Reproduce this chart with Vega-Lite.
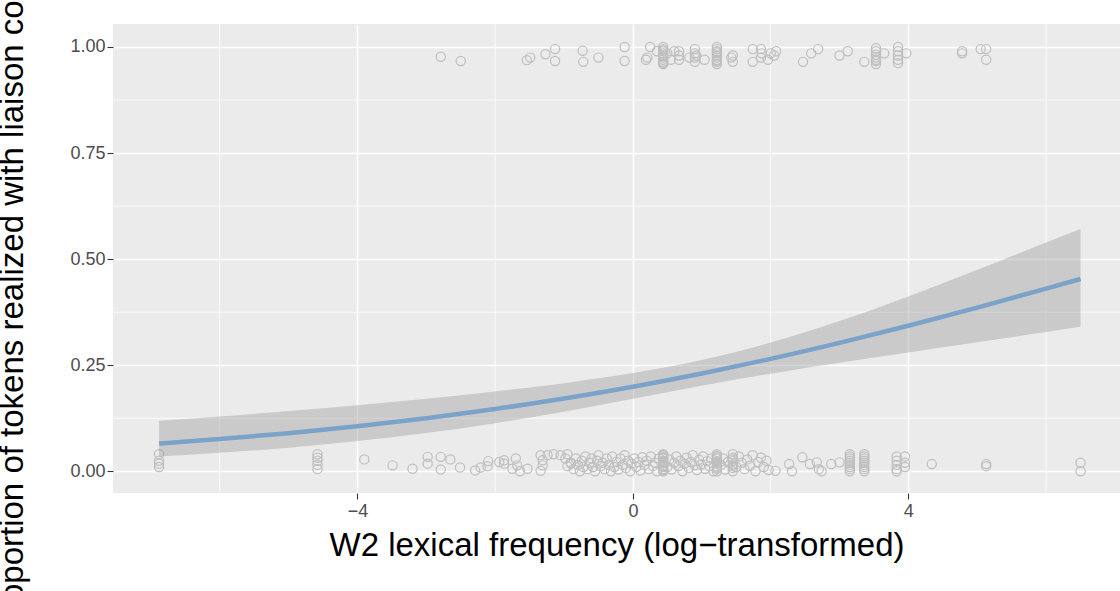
{
  "$schema": "https://vega.github.io/schema/vega-lite/v6.json",
  "autosize": {"type": "none"},
  "width": 1007,
  "height": 469,
  "padding": {"left": 113, "top": 24, "right": 0, "bottom": 98},
  "background": "white",
  "config": {
    "view": {"stroke": null, "fill": "#EBEBEB"},
    "axis": {
      "domain": false,
      "tickColor": "#333333",
      "tickSize": 6,
      "tickWidth": 1.1,
      "labelColor": "#4D4D4D",
      "labelFont": "Liberation Sans",
      "labelFontSize": 18,
      "titleFont": "Liberation Sans",
      "titleFontSize": 33,
      "titleFontWeight": "normal",
      "titleColor": "#000000",
      "gridColor": "#FFFFFF",
      "gridWidth": 1.6,
      "gridOpacity": 1
    },
    "axisX": {"labelPadding": 3, "titlePadding": 9},
    "axisY": {"labelPadding": 2, "titleX": -91, "titleBaseline": "alphabetic"}
  },
  "datasets": {
    "gx": [{"freq": -6}, {"freq": -2}, {"freq": 2}, {"freq": 6}],
    "gy": [{"liaison": 0.125}, {"liaison": 0.375}, {"liaison": 0.625}, {"liaison": 0.875}],
    "fit": [
      {"freq": -6.88, "fit": 0.0652, "lo": 0.0348, "hi": 0.1189},
      {"freq": -6, "fit": 0.0759, "lo": 0.0434, "hi": 0.1292},
      {"freq": -5, "fit": 0.0899, "lo": 0.0557, "hi": 0.1419},
      {"freq": -4, "fit": 0.1063, "lo": 0.0711, "hi": 0.1558},
      {"freq": -3, "fit": 0.1251, "lo": 0.0901, "hi": 0.1711},
      {"freq": -2, "fit": 0.1468, "lo": 0.1133, "hi": 0.1882},
      {"freq": -1, "fit": 0.1715, "lo": 0.1405, "hi": 0.2077},
      {"freq": 0, "fit": 0.1994, "lo": 0.1708, "hi": 0.2315},
      {"freq": 1, "fit": 0.2306, "lo": 0.2017, "hi": 0.2623},
      {"freq": 2, "fit": 0.265, "lo": 0.2299, "hi": 0.3033},
      {"freq": 3, "fit": 0.3026, "lo": 0.2556, "hi": 0.3541},
      {"freq": 4, "fit": 0.343, "lo": 0.2799, "hi": 0.4122},
      {"freq": 5, "fit": 0.3858, "lo": 0.3039, "hi": 0.4748},
      {"freq": 6, "fit": 0.4305, "lo": 0.3281, "hi": 0.5391},
      {"freq": 6.5, "fit": 0.4533, "lo": 0.3404, "hi": 0.5712}
    ],
    "pts": [
      {"freq": -6.88, "liaison": 0.04}, {"freq": -6.88, "liaison": 0.025}, {"freq": -6.88, "liaison": 0.018}, {"freq": -6.88, "liaison": 0.01},
      {"freq": -4.58, "liaison": 0.04}, {"freq": -4.58, "liaison": 0.032}, {"freq": -4.58, "liaison": 0.025}, {"freq": -4.58, "liaison": 0.015}, {"freq": -4.58, "liaison": 0.005},
      {"freq": -3.9, "liaison": 0.028}, {"freq": -3.49, "liaison": 0.014}, {"freq": -3.2, "liaison": 0.006},
      {"freq": -2.98, "liaison": 0.034}, {"freq": -2.98, "liaison": 0.018}, {"freq": -2.79, "liaison": 0.034}, {"freq": -2.79, "liaison": 0.004},
      {"freq": -2.65, "liaison": 0.028}, {"freq": -2.51, "liaison": 0.009}, {"freq": -2.29, "liaison": 0.002}, {"freq": -2.21, "liaison": 0.009},
      {"freq": -2.11, "liaison": 0.012}, {"freq": -2.1, "liaison": 0.024}, {"freq": -1.94, "liaison": 0.022}, {"freq": -1.87, "liaison": 0.026},
      {"freq": -1.87, "liaison": 0.018}, {"freq": -1.75, "liaison": 0.006}, {"freq": -1.7, "liaison": 0.03}, {"freq": -1.68, "liaison": 0.014},
      {"freq": -1.64, "liaison": 0.0}, {"freq": -1.53, "liaison": 0.006}, {"freq": -1.34, "liaison": 0.038}, {"freq": -1.34, "liaison": 0.001},
      {"freq": -1.31, "liaison": 0.026}, {"freq": -1.31, "liaison": 0.014}, {"freq": -1.24, "liaison": 0.038}, {"freq": -1.15, "liaison": 0.04},
      {"freq": -1.05, "liaison": 0.038}, {"freq": -0.95, "liaison": 0.04}, {"freq": -0.9, "liaison": 0.018},
      {"freq": -0.98, "liaison": 0.03}, {"freq": -0.95, "liaison": 0.012}, {"freq": -0.9, "liaison": 0.02}, {"freq": -0.86, "liaison": 0.005},
      {"freq": -0.83, "liaison": 0.03}, {"freq": -0.8, "liaison": 0.015}, {"freq": -0.77, "liaison": 0.0}, {"freq": -0.74, "liaison": 0.025},
      {"freq": -0.72, "liaison": 0.01}, {"freq": -0.69, "liaison": 0.035}, {"freq": -0.66, "liaison": 0.005}, {"freq": -0.63, "liaison": 0.02},
      {"freq": -0.6, "liaison": 0.03}, {"freq": -0.58, "liaison": 0.01}, {"freq": -0.55, "liaison": 0.0}, {"freq": -0.52, "liaison": 0.025},
      {"freq": -0.5, "liaison": 0.038}, {"freq": -0.47, "liaison": 0.012}, {"freq": -0.44, "liaison": 0.02}, {"freq": -0.41, "liaison": 0.005},
      {"freq": -0.38, "liaison": 0.03}, {"freq": -0.35, "liaison": 0.015}, {"freq": -0.32, "liaison": 0.0}, {"freq": -0.3, "liaison": 0.035},
      {"freq": -0.27, "liaison": 0.01}, {"freq": -0.24, "liaison": 0.022}, {"freq": -0.21, "liaison": 0.004}, {"freq": -0.18, "liaison": 0.03},
      {"freq": -0.15, "liaison": 0.015}, {"freq": -0.12, "liaison": 0.038}, {"freq": -0.1, "liaison": 0.008}, {"freq": -0.07, "liaison": 0.025},
      {"freq": -0.04, "liaison": 0.0}, {"freq": -0.02, "liaison": 0.018}, {"freq": 0.02, "liaison": 0.03}, {"freq": 0.05, "liaison": 0.01},
      {"freq": 0.08, "liaison": 0.022}, {"freq": 0.11, "liaison": 0.002}, {"freq": 0.14, "liaison": 0.033}, {"freq": 0.17, "liaison": 0.015},
      {"freq": 0.2, "liaison": 0.025}, {"freq": 0.23, "liaison": 0.005}, {"freq": 0.26, "liaison": 0.035}, {"freq": 0.29, "liaison": 0.012},
      {"freq": 0.32, "liaison": 0.02}, {"freq": 0.35, "liaison": 0.0}, {"freq": 0.38, "liaison": 0.03},
      {"freq": 0.44, "liaison": 0.0}, {"freq": 0.44, "liaison": 0.005}, {"freq": 0.44, "liaison": 0.01}, {"freq": 0.44, "liaison": 0.015},
      {"freq": 0.44, "liaison": 0.02}, {"freq": 0.44, "liaison": 0.025}, {"freq": 0.44, "liaison": 0.03}, {"freq": 0.44, "liaison": 0.035},
      {"freq": 0.44, "liaison": 0.04}, {"freq": 0.44, "liaison": 0.003}, {"freq": 0.44, "liaison": 0.012}, {"freq": 0.44, "liaison": 0.022},
      {"freq": 0.44, "liaison": 0.032}, {"freq": 0.44, "liaison": 0.038},
      {"freq": 0.5, "liaison": 0.01}, {"freq": 0.53, "liaison": 0.028}, {"freq": 0.56, "liaison": 0.004}, {"freq": 0.6, "liaison": 0.02},
      {"freq": 0.63, "liaison": 0.035}, {"freq": 0.66, "liaison": 0.012}, {"freq": 0.69, "liaison": 0.025}, {"freq": 0.72, "liaison": 0.0},
      {"freq": 0.75, "liaison": 0.018}, {"freq": 0.78, "liaison": 0.032}, {"freq": 0.81, "liaison": 0.008}, {"freq": 0.84, "liaison": 0.022},
      {"freq": 0.87, "liaison": 0.038}, {"freq": 0.9, "liaison": 0.014}, {"freq": 0.93, "liaison": 0.003}, {"freq": 0.96, "liaison": 0.027},
      {"freq": 0.99, "liaison": 0.016}, {"freq": 1.02, "liaison": 0.035}, {"freq": 1.05, "liaison": 0.006}, {"freq": 1.08, "liaison": 0.024},
      {"freq": 1.11, "liaison": 0.012}, {"freq": 1.14, "liaison": 0.03}, {"freq": 1.17, "liaison": 0.0},
      {"freq": 1.22, "liaison": 0.0}, {"freq": 1.22, "liaison": 0.006}, {"freq": 1.22, "liaison": 0.012}, {"freq": 1.22, "liaison": 0.018},
      {"freq": 1.22, "liaison": 0.024}, {"freq": 1.22, "liaison": 0.03}, {"freq": 1.22, "liaison": 0.036}, {"freq": 1.22, "liaison": 0.04},
      {"freq": 1.22, "liaison": 0.009}, {"freq": 1.22, "liaison": 0.021}, {"freq": 1.22, "liaison": 0.033},
      {"freq": 1.28, "liaison": 0.015}, {"freq": 1.31, "liaison": 0.03}, {"freq": 1.34, "liaison": 0.004}, {"freq": 1.38, "liaison": 0.022},
      {"freq": 1.45, "liaison": 0.0}, {"freq": 1.45, "liaison": 0.008}, {"freq": 1.45, "liaison": 0.016}, {"freq": 1.45, "liaison": 0.024},
      {"freq": 1.45, "liaison": 0.032}, {"freq": 1.45, "liaison": 0.04}, {"freq": 1.45, "liaison": 0.012}, {"freq": 1.45, "liaison": 0.028},
      {"freq": 1.5, "liaison": 0.01}, {"freq": 1.54, "liaison": 0.035}, {"freq": 1.58, "liaison": 0.02}, {"freq": 1.62, "liaison": 0.005},
      {"freq": 1.66, "liaison": 0.028}, {"freq": 1.7, "liaison": 0.013}, {"freq": 1.74, "liaison": 0.038}, {"freq": 1.78, "liaison": 0.0},
      {"freq": 1.82, "liaison": 0.022}, {"freq": 1.86, "liaison": 0.032}, {"freq": 1.9, "liaison": 0.01}, {"freq": 1.94, "liaison": 0.025},
      {"freq": 1.97, "liaison": 0.003},
      {"freq": 2.07, "liaison": 0.001}, {"freq": 2.27, "liaison": 0.017}, {"freq": 2.31, "liaison": 0.0}, {"freq": 2.46, "liaison": 0.033},
      {"freq": 2.57, "liaison": 0.017}, {"freq": 2.67, "liaison": 0.021}, {"freq": 2.74, "liaison": 0.0}, {"freq": 2.7, "liaison": 0.005},
      {"freq": 2.88, "liaison": 0.017}, {"freq": 3.0, "liaison": 0.021},
      {"freq": 3.15, "liaison": 0.0}, {"freq": 3.15, "liaison": 0.005}, {"freq": 3.15, "liaison": 0.01}, {"freq": 3.15, "liaison": 0.015},
      {"freq": 3.15, "liaison": 0.02}, {"freq": 3.15, "liaison": 0.025}, {"freq": 3.15, "liaison": 0.03}, {"freq": 3.15, "liaison": 0.035},
      {"freq": 3.15, "liaison": 0.04},
      {"freq": 3.36, "liaison": 0.0}, {"freq": 3.36, "liaison": 0.005}, {"freq": 3.36, "liaison": 0.01}, {"freq": 3.36, "liaison": 0.015},
      {"freq": 3.36, "liaison": 0.02}, {"freq": 3.36, "liaison": 0.025}, {"freq": 3.36, "liaison": 0.03}, {"freq": 3.36, "liaison": 0.035},
      {"freq": 3.36, "liaison": 0.04},
      {"freq": 3.83, "liaison": 0.035}, {"freq": 3.83, "liaison": 0.025}, {"freq": 3.83, "liaison": 0.015}, {"freq": 3.83, "liaison": 0.005},
      {"freq": 3.83, "liaison": 0.0}, {"freq": 3.95, "liaison": 0.035}, {"freq": 3.95, "liaison": 0.02}, {"freq": 3.95, "liaison": 0.01},
      {"freq": 4.34, "liaison": 0.017}, {"freq": 5.13, "liaison": 0.017}, {"freq": 5.13, "liaison": 0.012},
      {"freq": 6.5, "liaison": 0.02}, {"freq": 6.5, "liaison": 0.0},
      {"freq": -2.79, "liaison": 0.977}, {"freq": -2.5, "liaison": 0.967}, {"freq": -1.54, "liaison": 0.969}, {"freq": -1.49, "liaison": 0.975},
      {"freq": -1.27, "liaison": 0.983}, {"freq": -1.13, "liaison": 0.995}, {"freq": -1.13, "liaison": 0.967}, {"freq": -0.73, "liaison": 0.991},
      {"freq": -0.72, "liaison": 0.965}, {"freq": -0.5, "liaison": 0.975}, {"freq": -0.12, "liaison": 1.0}, {"freq": -0.12, "liaison": 0.967},
      {"freq": 0.19, "liaison": 0.97}, {"freq": 0.21, "liaison": 0.975}, {"freq": 0.25, "liaison": 1.0}, {"freq": 0.35, "liaison": 0.99},
      {"freq": 0.44, "liaison": 0.96}, {"freq": 0.44, "liaison": 0.965}, {"freq": 0.44, "liaison": 0.97}, {"freq": 0.44, "liaison": 0.975},
      {"freq": 0.44, "liaison": 0.98}, {"freq": 0.44, "liaison": 0.985}, {"freq": 0.44, "liaison": 0.99}, {"freq": 0.44, "liaison": 0.995},
      {"freq": 0.44, "liaison": 1.0}, {"freq": 0.44, "liaison": 0.962}, {"freq": 0.44, "liaison": 0.978}, {"freq": 0.44, "liaison": 0.992},
      {"freq": 0.5, "liaison": 0.985}, {"freq": 0.55, "liaison": 0.97}, {"freq": 0.6, "liaison": 0.99},
      {"freq": 0.67, "liaison": 0.99}, {"freq": 0.67, "liaison": 0.98}, {"freq": 0.67, "liaison": 0.97}, {"freq": 0.82, "liaison": 0.975},
      {"freq": 0.9, "liaison": 0.995}, {"freq": 0.9, "liaison": 0.985}, {"freq": 0.9, "liaison": 0.975}, {"freq": 0.9, "liaison": 0.965},
      {"freq": 0.92, "liaison": 0.98}, {"freq": 1.04, "liaison": 0.97},
      {"freq": 1.22, "liaison": 0.96}, {"freq": 1.22, "liaison": 0.965}, {"freq": 1.22, "liaison": 0.97}, {"freq": 1.22, "liaison": 0.975},
      {"freq": 1.22, "liaison": 0.98}, {"freq": 1.22, "liaison": 0.985}, {"freq": 1.22, "liaison": 0.99}, {"freq": 1.22, "liaison": 0.995},
      {"freq": 1.22, "liaison": 1.0}, {"freq": 1.22, "liaison": 0.968}, {"freq": 1.22, "liaison": 0.988},
      {"freq": 1.43, "liaison": 0.975}, {"freq": 1.45, "liaison": 0.965}, {"freq": 1.45, "liaison": 0.98},
      {"freq": 1.74, "liaison": 0.995}, {"freq": 1.74, "liaison": 0.965}, {"freq": 1.86, "liaison": 0.995}, {"freq": 1.86, "liaison": 0.975},
      {"freq": 1.87, "liaison": 0.985}, {"freq": 1.96, "liaison": 0.97}, {"freq": 2.0, "liaison": 0.985}, {"freq": 2.05, "liaison": 0.98},
      {"freq": 2.08, "liaison": 0.99}, {"freq": 2.47, "liaison": 0.965}, {"freq": 2.59, "liaison": 0.985}, {"freq": 2.69, "liaison": 0.995},
      {"freq": 3.0, "liaison": 0.98}, {"freq": 3.12, "liaison": 0.99}, {"freq": 3.36, "liaison": 0.965},
      {"freq": 3.53, "liaison": 0.96}, {"freq": 3.53, "liaison": 0.967}, {"freq": 3.53, "liaison": 0.975}, {"freq": 3.53, "liaison": 0.982},
      {"freq": 3.53, "liaison": 0.99}, {"freq": 3.53, "liaison": 0.997}, {"freq": 3.53, "liaison": 0.97},
      {"freq": 3.65, "liaison": 0.985},
      {"freq": 3.85, "liaison": 1.0}, {"freq": 3.85, "liaison": 0.99}, {"freq": 3.85, "liaison": 0.98}, {"freq": 3.85, "liaison": 0.97},
      {"freq": 3.85, "liaison": 0.962}, {"freq": 3.97, "liaison": 0.985},
      {"freq": 4.78, "liaison": 0.99}, {"freq": 4.78, "liaison": 0.985}, {"freq": 5.05, "liaison": 0.995}, {"freq": 5.13, "liaison": 0.995},
      {"freq": 5.13, "liaison": 0.97}
    ]
  },
  "layer": [
    {
      "data": {"name": "gx"},
      "mark": {"type": "rule", "color": "#FFFFFF", "strokeWidth": 0.8},
      "encoding": {
        "x": {"field": "freq", "type": "quantitative", "scale": {"domain": [-7.549, 7.073], "nice": false, "zero": false}, "axis": {"values": [-4, 0, 4], "title": "W2 lexical frequency (log−transformed)", "grid": true}}
      }
    },
    {
      "data": {"name": "gy"},
      "mark": {"type": "rule", "color": "#FFFFFF", "strokeWidth": 0.8},
      "encoding": {
        "y": {"field": "liaison", "type": "quantitative", "scale": {"domain": [-0.0512, 1.0542], "nice": false, "zero": false}, "axis": {"values": [0, 0.25, 0.5, 0.75, 1], "format": ".2f", "title": "Proportion of tokens realized with liaison consonant", "grid": true}}
      }
    },
    {
      "data": {"name": "pts"},
      "mark": {"type": "point", "shape": "circle", "filled": false, "stroke": "#BEBEBE", "strokeWidth": 1.2, "size": 85, "opacity": 1},
      "encoding": {
        "x": {"field": "freq", "type": "quantitative", "scale": {"domain": [-7.549, 7.073], "nice": false, "zero": false}, "axis": {"values": [-4, 0, 4], "title": "W2 lexical frequency (log−transformed)", "grid": true}},
        "y": {"field": "liaison", "type": "quantitative", "scale": {"domain": [-0.0512, 1.0542], "nice": false, "zero": false}, "axis": {"values": [0, 0.25, 0.5, 0.75, 1], "format": ".2f", "title": "Proportion of tokens realized with liaison consonant", "grid": true}}
      }
    },
    {
      "data": {"name": "fit"},
      "mark": {"type": "area", "color": "#999999", "opacity": 0.4, "interpolate": "monotone"},
      "encoding": {
        "x": {"field": "freq", "type": "quantitative", "scale": {"domain": [-7.549, 7.073], "nice": false, "zero": false}, "axis": {"values": [-4, 0, 4], "title": "W2 lexical frequency (log−transformed)", "grid": true}},
        "y": {"field": "lo", "type": "quantitative", "scale": {"domain": [-0.0512, 1.0542], "nice": false, "zero": false}, "axis": {"values": [0, 0.25, 0.5, 0.75, 1], "format": ".2f", "title": "Proportion of tokens realized with liaison consonant", "grid": true}},
        "y2": {"field": "hi"}
      }
    },
    {
      "data": {"name": "fit"},
      "mark": {"type": "line", "color": "#7BA2C8", "strokeWidth": 4.5, "interpolate": "monotone"},
      "encoding": {
        "x": {"field": "freq", "type": "quantitative", "scale": {"domain": [-7.549, 7.073], "nice": false, "zero": false}, "axis": {"values": [-4, 0, 4], "title": "W2 lexical frequency (log−transformed)", "grid": true}},
        "y": {"field": "fit", "type": "quantitative", "scale": {"domain": [-0.0512, 1.0542], "nice": false, "zero": false}, "axis": {"values": [0, 0.25, 0.5, 0.75, 1], "format": ".2f", "title": "Proportion of tokens realized with liaison consonant", "grid": true}}
      }
    }
  ]
}
